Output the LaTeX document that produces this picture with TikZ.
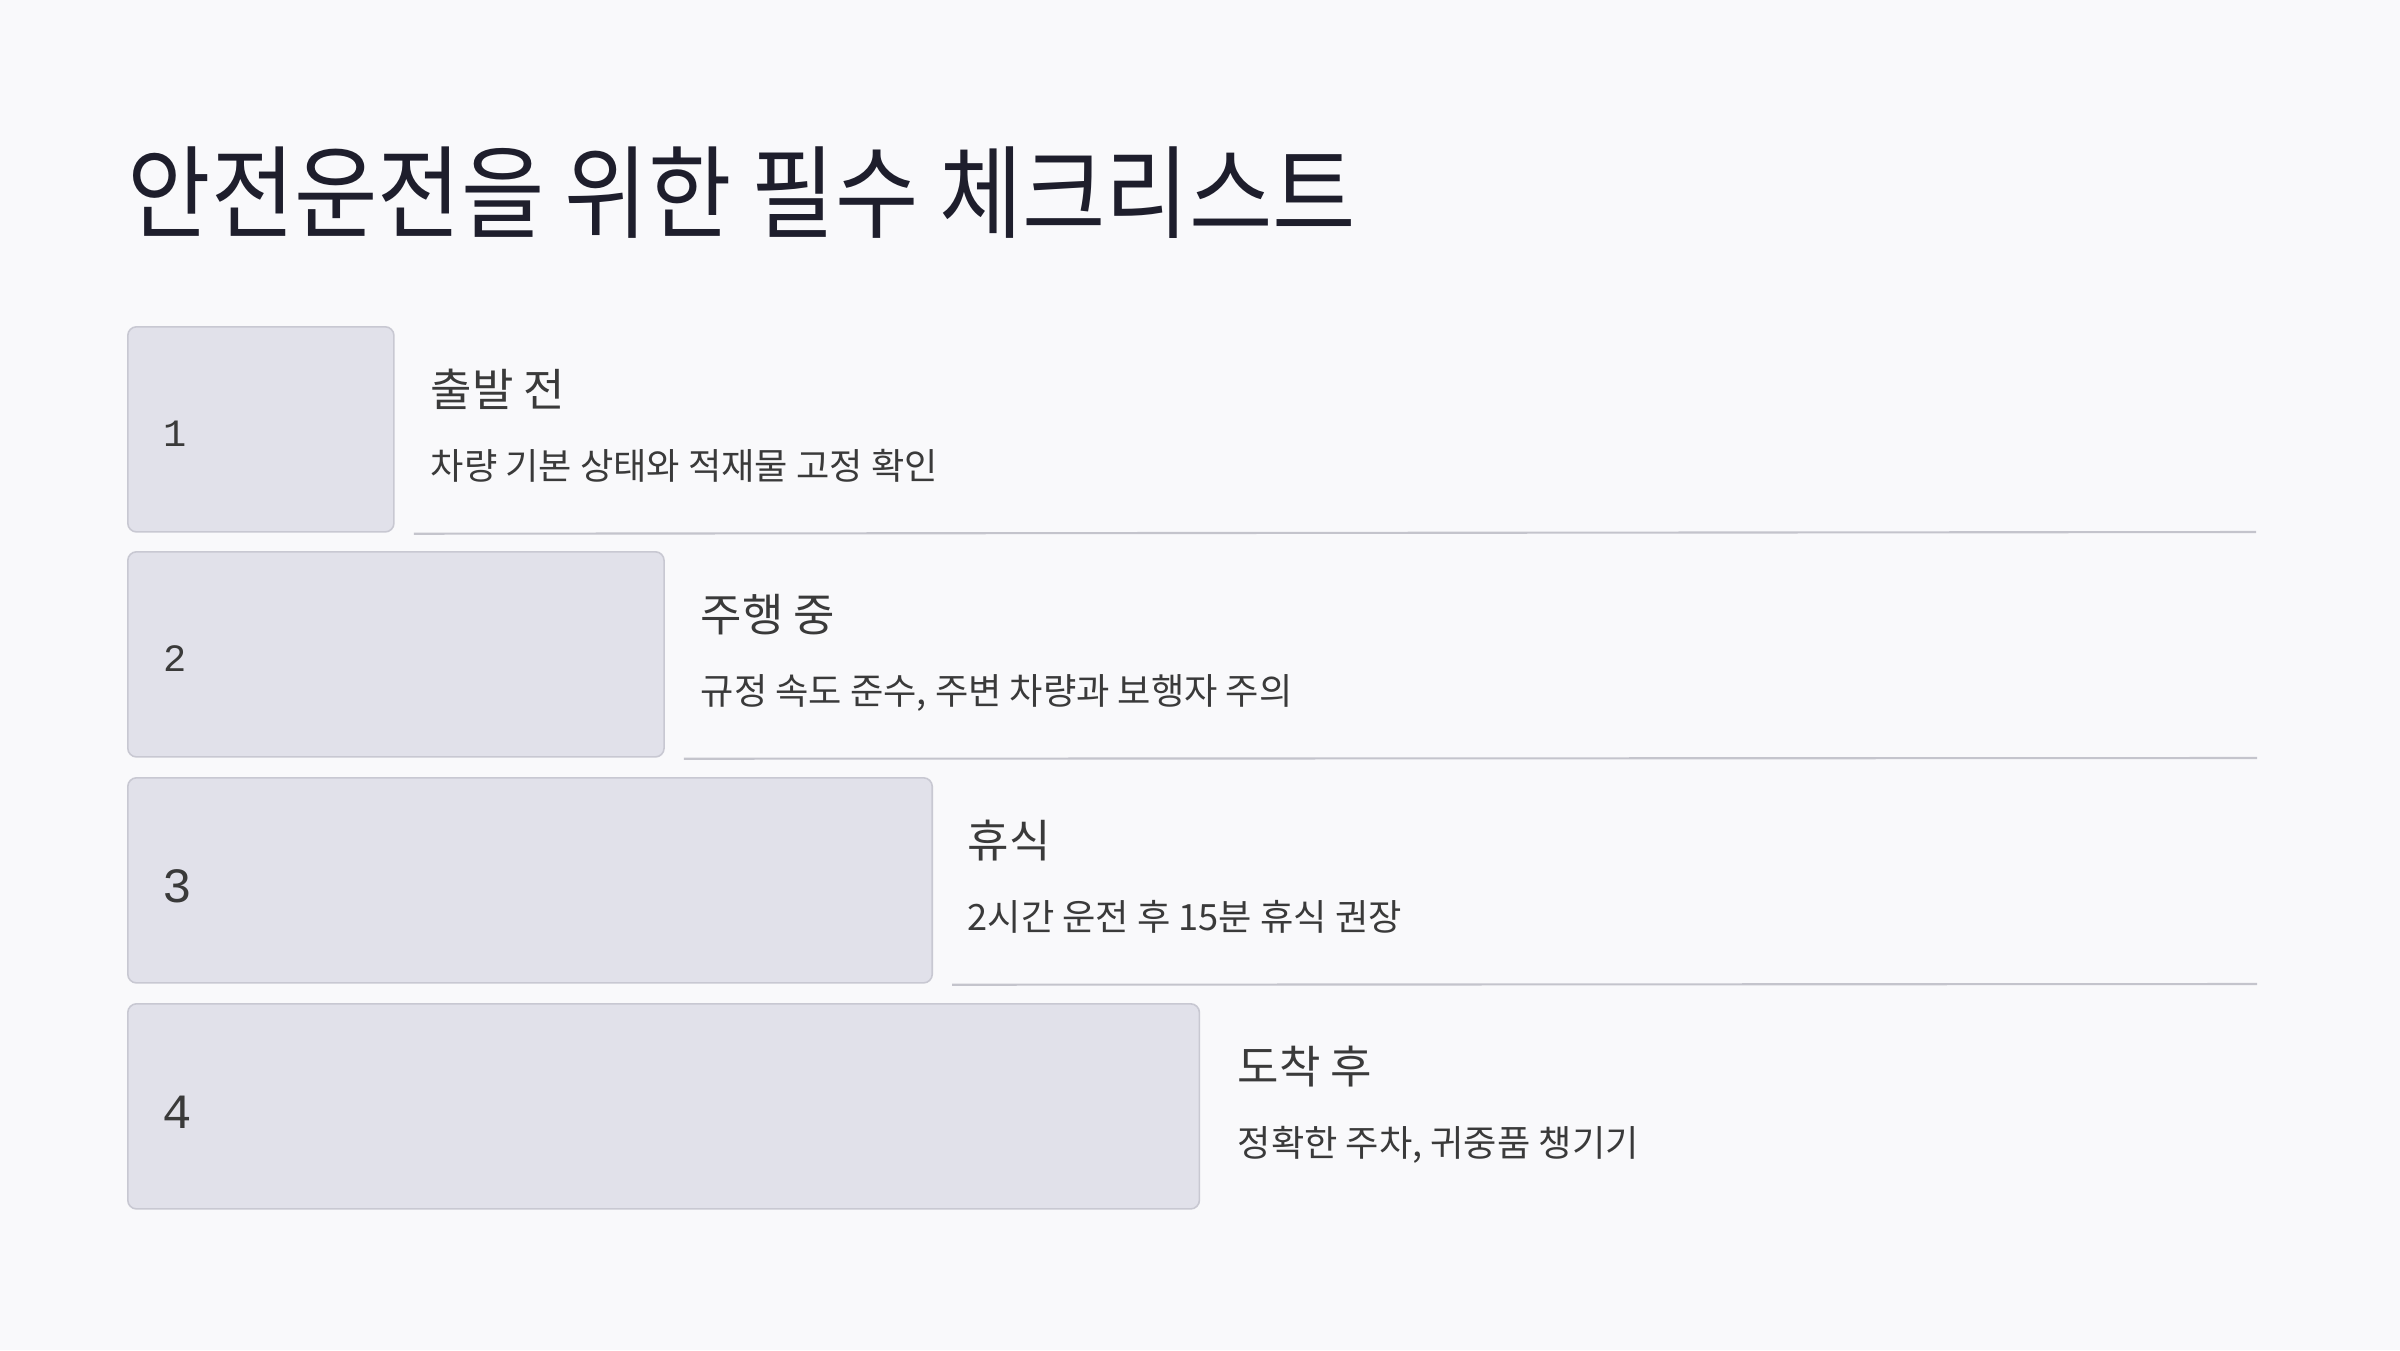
\documentclass[tikz,border=0pt]{standalone}
\usepackage{fontspec}
\setmainfont{Noto Sans CJK KR}
\newfontfamily\titlefont[FakeStretch=0.895]{Noto Sans CJK KR}
\newfontfamily\numfont{Liberation Mono}
\definecolor{bgc}{HTML}{F9F9FB}
\definecolor{boxfill}{HTML}{E1E1EA}
\definecolor{boxline}{HTML}{C8C8D2}
\definecolor{sepline}{HTML}{C4C4CC}
\definecolor{titlec}{HTML}{1E1E2C}
\definecolor{textc}{HTML}{3A3A3A}
\tikzset{
  stagebox/.style={draw=boxline, fill=boxfill, line width=0.45pt, rounded corners=2.5pt,
    rectangle, anchor=north west, inner sep=0pt, minimum height=2.05cm},
  numtxt/.style={anchor=west, text=textc, inner sep=0pt},
  headtxt/.style={anchor=base west, text=textc, inner sep=0pt, font=\fontsize{12.8pt}{15pt}\selectfont},
  desctxt/.style={anchor=base west, text=textc, inner sep=0pt, font=\fontsize{10.3pt}{12pt}\selectfont},
  sep/.style={draw=sepline, line width=0.6pt},
}
\begin{document}
\begin{tikzpicture}[x=0.01cm,y=-0.01cm]
\fill[bgc] (0,0) rectangle (2400,1350);
\useasboundingbox (0,0) rectangle (2400,1350);
\node[anchor=base west, inner sep=0pt, text=titlec, font=\titlefont\fontsize{28.8pt}{34pt}\selectfont] (title) at (127,230) {안전운전을 위한 필수 체크리스트};
% boxes
\node[stagebox, minimum width=2.66cm] (b1) at (127,326) {};
\node[stagebox, minimum width=5.36cm] (b2) at (127,551) {};
\node[stagebox, minimum width=8.04cm] (b3) at (127,777) {};
\node[stagebox, minimum width=10.71cm] (b4) at (127,1003) {};
% numbers
\node[numtxt, font=\numfont\fontsize{11pt}{13pt}\selectfont] (n1) at ([xshift=0.36cm,yshift=-0.045cm]b1.west) {1};
\node[numtxt, font=\numfont\fontsize{11pt}{13pt}\selectfont] (n2) at ([xshift=0.36cm,yshift=-0.045cm]b2.west) {2};
\node[numtxt, font=\numfont\fontsize{14pt}{16pt}\selectfont] (n3) at ([xshift=0.35cm,yshift=-0.06cm]b3.west) {3};
\node[numtxt, font=\numfont\fontsize{14pt}{16pt}\selectfont] (n4) at ([xshift=0.35cm,yshift=-0.06cm]b4.west) {4};
% headings and descriptions
\node[headtxt] (h1) at (430,406) {출발 전};
\node[desctxt] (d1) at (430,479) {차량 기본 상태와 적재물 고정 확인};
\node[headtxt] (h2) at (700,631) {주행 중};
\node[desctxt] (d2) at (700,704) {규정 속도 준수, 주변 차량과 보행자 주의};
\node[headtxt] (h3) at (967,857) {휴식};
\node[desctxt] (d3) at (967,930) {2시간 운전 후 15분 휴식 권장};
\node[headtxt] (h4) at (1237,1083) {도착 후};
\node[desctxt] (d4) at (1237,1156) {정확한 주차, 귀중품 챙기기};
% separators
\coordinate (e1) at (2256,532);
\coordinate (e2) at (2257,758);
\coordinate (e3) at (2257,984);
\draw[sep] ([xshift=0.19cm,yshift=-0.01cm]b1.south east) -- (e1);
\draw[sep] ([xshift=0.19cm,yshift=-0.01cm]b2.south east) -- (e2);
\draw[sep] ([xshift=0.19cm,yshift=-0.01cm]b3.south east) -- (e3);
\end{tikzpicture}
\end{document}
